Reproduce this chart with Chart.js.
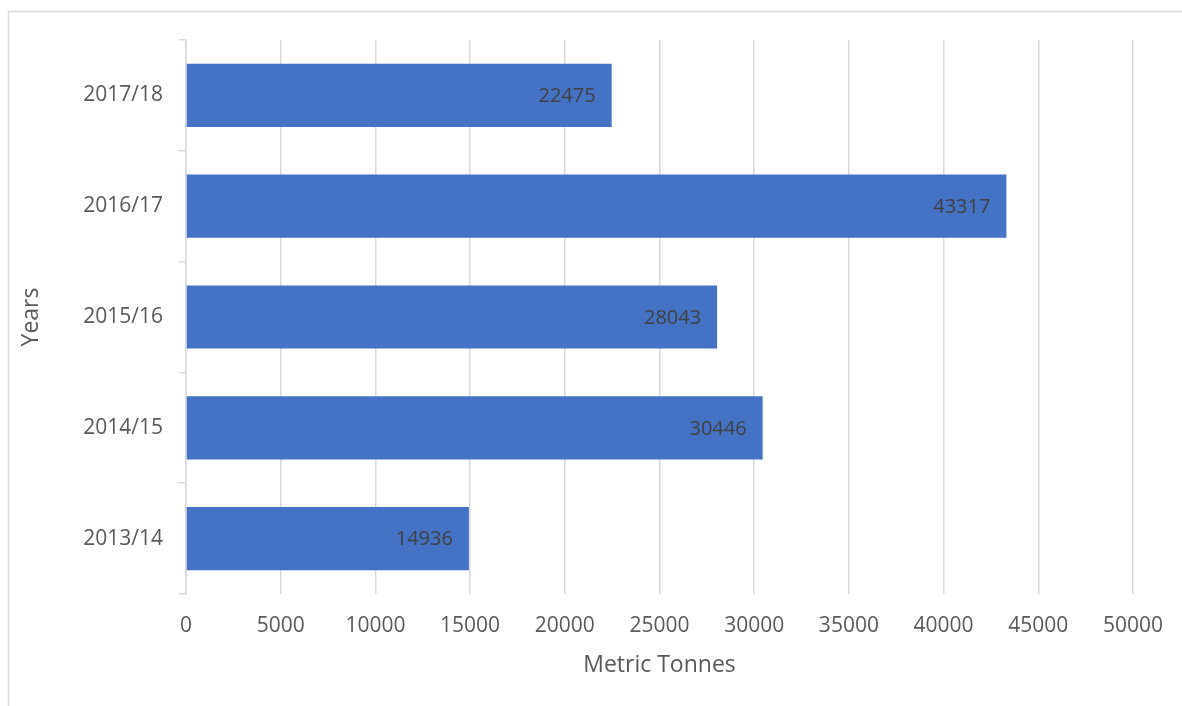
<!DOCTYPE html>
<html>
<head>
<meta charset="utf-8">
<script src="https://cdn.jsdelivr.net/npm/chart.js@4/dist/chart.umd.min.js"></script>
<style>
  html, body { margin: 0; padding: 0; background: #ffffff; }
  #wrap { width: 1182px; height: 706px; position: relative; }
</style>
</head>
<body>
<div id="wrap"><canvas id="c" width="1182" height="706"></canvas></div>
<script>
const categories = ['2013/14', '2014/15', '2015/16', '2016/17', '2017/18'];
const tonnes = [14936, 30446, 28043, 43317, 22475];
const xTickValues = [0, 5000, 10000, 15000, 20000, 25000, 30000, 35000, 40000, 45000, 50000];
const xTitle = 'Metric Tonnes';
const yTitle = 'Years';

const FONT = "'Open Sans', 'DejaVu Sans', sans-serif";

const framePlugin = {
  id: 'frame',
  beforeDraw(chart) {
    const ctx = chart.ctx;
    ctx.save();
    ctx.strokeStyle = '#d9d9d9';
    ctx.lineWidth = 1.5;
    ctx.beginPath();
    ctx.moveTo(8.5, 706);
    ctx.lineTo(8.5, 11.5);
    ctx.lineTo(1182, 11.5);
    ctx.stroke();
    ctx.restore();
  }
};

const labelPlugin = {
  id: 'barLabels',
  afterDatasetsDraw(chart) {
    const ctx = chart.ctx;
    const meta = chart.getDatasetMeta(0);
    ctx.save();
    ctx.font = "20px " + FONT;
    ctx.fillStyle = '#404040';
    ctx.textAlign = 'right';
    ctx.textBaseline = 'middle';
    meta.data.forEach((bar, i) => {
      const v = chart.data.datasets[0].data[i];
      ctx.fillText(String(v), bar.x - 16, bar.y + 1);
    });
    ctx.restore();
  }
};

new Chart(document.getElementById('c'), {
  type: 'bar',
  data: {
    labels: categories,
    datasets: [{
      data: tonnes,
      backgroundColor: '#4472c4',
      borderWidth: 0,
      barPercentage: 0.57,
      categoryPercentage: 1.0
    }]
  },
  plugins: [framePlugin, labelPlugin],
  options: {
    indexAxis: 'y',
    responsive: false,
    animation: false,
    devicePixelRatio: 1,
    layout: { padding: { top: 40, right: 40, left: 0, bottom: 0 } },
    plugins: { legend: { display: false }, tooltip: { enabled: false } },
    scales: {
      x: {
        min: 0,
        max: 50000,
        afterBuildTicks(scale) { scale.ticks = xTickValues.map(v => ({ value: v })); },
        afterFit(scale) { scale.height = 112; },
        grid: { color: '#d9d9d9', lineWidth: 1.5, drawTicks: false },
        border: { display: false },
        ticks: {
          padding: 19,
          color: '#595959',
          font: { family: FONT, size: 21 },
          maxRotation: 0,
          autoSkip: false,
          callback: (v) => String(v)
        },
        title: {
          display: true,
          text: xTitle,
          color: '#595959',
          font: { family: FONT, size: 23 },
          padding: { top: 0, bottom: 27 }
        }
      },
      y: {
        reverse: true,
        afterFit(scale) { scale.width = 186; },
        grid: { offset: true, drawOnChartArea: false, tickLength: 7, color: '#d9d9d9', lineWidth: 1.5 },
        border: { display: true, color: '#d9d9d9', width: 1.5 },
        ticks: {
          padding: 16,
          color: '#595959',
          font: { family: FONT, size: 21 }
        },
        title: {
          display: true,
          text: yTitle,
          color: '#595959',
          font: { family: FONT, size: 23 },
          padding: { top: 18, bottom: 0 }
        }
      }
    }
  }
});
</script>
</body>
</html>
